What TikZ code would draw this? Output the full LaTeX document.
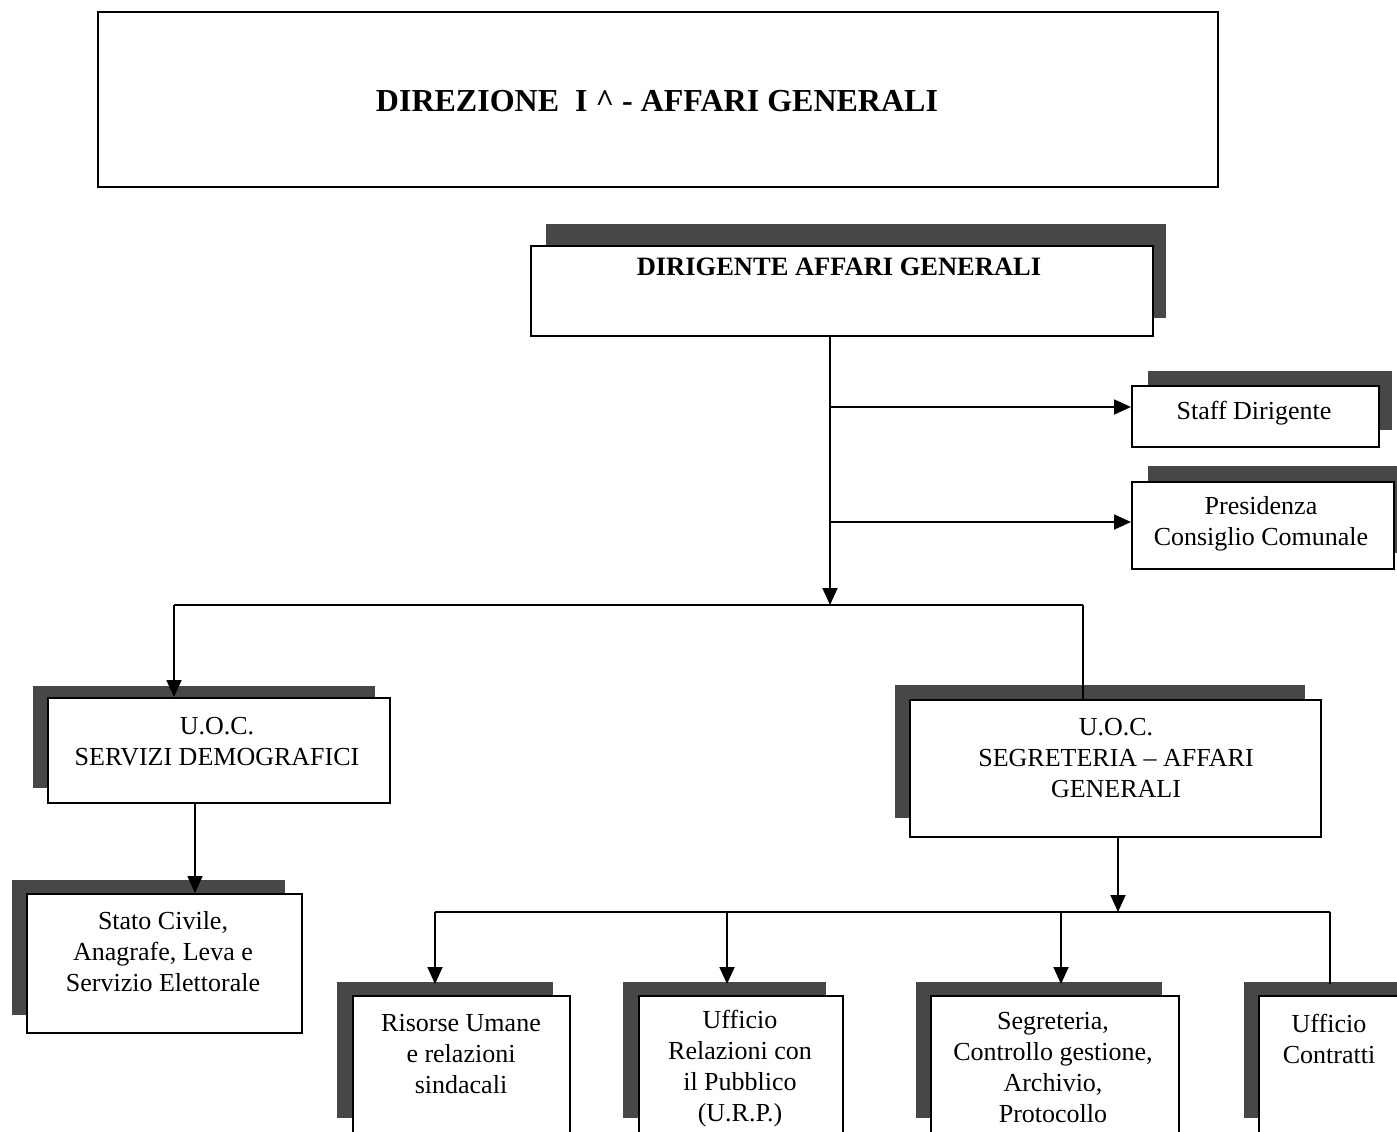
\documentclass[tikz,border=0pt]{standalone}
\usepackage{fontspec}
\setmainfont{Liberation Serif}
\usetikzlibrary{arrows.meta}
\begin{document}
\begin{tikzpicture}[x=1pt,y=-1pt,
  boxline/.style={draw=black,line width=1.8pt,fill=white},
  shadowfill/.style={fill=black!72,draw=none},
  txt/.style={align=center,font=\fontsize{26}{31}\selectfont,inner sep=0pt},
  btxt/.style={align=center,font=\fontsize{26.5}{31}\selectfont\bfseries,inner sep=0pt},
  conn/.style={line width=1.8pt},
  arr/.style={line width=1.8pt,-{Triangle[length=17pt,width=15pt]}}]
\useasboundingbox (0,0) rectangle (1397,1132);
\clip (0,0) rectangle (1397,1132);
\fill[white] (0,0) rectangle (1397,1132);
% title
\draw[boxline] (98,12) rectangle (1218,187);
\node[btxt,font=\fontsize{32}{36}\selectfont\bfseries] (title) at (657,101) {DIREZIONE\ \ I \textasciicircum\ - AFFARI GENERALI};
% shadows
\fill[shadowfill] (546,224) rectangle (1166,318);
\fill[shadowfill] (1148,371) rectangle (1392,430);
\fill[shadowfill] (1148,466) rectangle (1397,553);
\fill[shadowfill] (33,686) rectangle (375,788);
\fill[shadowfill] (12,880) rectangle (285,1015);
\fill[shadowfill] (895,685) rectangle (1305,818);
\fill[shadowfill] (337,982) rectangle (553,1118);
\fill[shadowfill] (623,982) rectangle (826,1118);
\fill[shadowfill] (916,982) rectangle (1162,1118);
\fill[shadowfill] (1244,982) rectangle (1400,1118);
% boxes
\node[boxline,minimum width=622pt,minimum height=90pt,anchor=north west] (dir) at (530,245) {};
\node[boxline,minimum width=247pt,minimum height=61pt,anchor=north west] (staff) at (1131,385) {};
\node[boxline,minimum width=262pt,minimum height=87pt,anchor=north west] (pres) at (1131,481) {};
\node[boxline,minimum width=342pt,minimum height=105pt,anchor=north west] (uoca) at (47,697) {};
\node[boxline,minimum width=275pt,minimum height=139pt,anchor=north west] (stato) at (26,893) {};
\node[boxline,minimum width=411pt,minimum height=137pt,anchor=north west] (uocb) at (909,699) {};
\node[boxline,minimum width=217pt,minimum height=170pt,anchor=north west] (ris) at (352,995) {};
\node[boxline,minimum width=204pt,minimum height=170pt,anchor=north west] (urp) at (638,995) {};
\node[boxline,minimum width=248pt,minimum height=170pt,anchor=north west] (seg) at (930,995) {};
\node[boxline,minimum width=160pt,minimum height=170pt,anchor=north west] (con) at (1258,995) {};
% texts
\node[btxt] (dirt) at (839,267) {DIRIGENTE AFFARI GENERALI};
\node[txt] (stafft) at (1254,413) {Staff Dirigente};
\node[txt] (prest) at (1261,524) {Presidenza\\Consiglio Comunale};
\node[txt] (uocat) at (217,742) {U.O.C.\\SERVIZI DEMOGRAFICI};
\node[txt] (statot) at (163,952) {Stato Civile,\\Anagrafe, Leva e\\Servizio Elettorale};
\node[txt] (uocbt) at (1116,758) {U.O.C.\\SEGRETERIA -- AFFARI\\GENERALI};
\node[txt] (rist) at (461,1054) {Risorse Umane\\e relazioni\\sindacali};
\node[txt] (urpt) at (740,1069) {Ufficio\\Relazioni con\\il Pubblico\\(U.R.P.)};
\node[txt] (segt) at (1053,1068) {Segreteria,\\Controllo gestione,\\Archivio,\\Protocollo};
\node[txt] (cont) at (1329,1039) {Ufficio\\Contratti};
% connectors
\coordinate (s0) at (830,335);
\coordinate (j1) at (830,605);
\coordinate (sa) at (830,407);
\coordinate (sb) at (830,522);
\draw[arr] (s0) -- (j1);
\draw[arr] (sa) -- (sa -| staff.west);
\draw[arr] (sb) -- (sb -| pres.west);
\coordinate (bl) at (174,605);
\coordinate (br) at (1083,605);
\draw[conn] (bl) -- (br);
\draw[arr] (bl) -- (bl |- uoca.north);
\draw[conn] (br) -- (br |- uocb.north);
\coordinate (u1) at (195,802);
\draw[arr] (u1) -- (u1 |- stato.north);
\coordinate (u2) at (1118,836);
\coordinate (j2) at (1118,912);
\draw[arr] (u2) -- (j2);
\coordinate (c1) at (435,912);
\coordinate (c2) at (727,912);
\coordinate (c3) at (1061,912);
\coordinate (c4) at (1330,912);
\draw[conn] (c1) -- (c4);
\draw[arr] (c1) -- ([yshift=11pt]c1 |- ris.north);
\draw[arr] (c2) -- ([yshift=11pt]c2 |- urp.north);
\draw[arr] (c3) -- ([yshift=11pt]c3 |- seg.north);
\draw[conn] (c4) -- ([yshift=11pt]c4 |- con.north);
\end{tikzpicture}
\end{document}
